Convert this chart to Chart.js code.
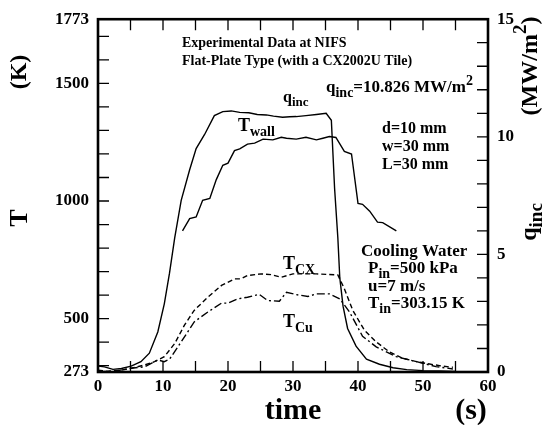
<!DOCTYPE html>
<html><head><meta charset="utf-8">
<script src="https://cdn.jsdelivr.net/npm/chart.js@4/dist/chart.umd.min.js"></script>
<style>html,body{margin:0;padding:0;background:#fff}</style>
</head><body>
<canvas id="c" width="554" height="425"></canvas>
<script>
// ---- data ----
const xTickLabels = [0, 10, 20, 30, 40, 50, 60];
const tTickLabels = [273, 500, 1000, 1500, 1773];
const qTickLabels = [0, 5, 10, 15];

const qTime  = [0, 1.0, 2.3, 3.6, 5.1, 6.6, 7.9, 9.2, 10.2, 11.0, 11.8, 12.8, 14.1, 15.1, 16.4, 17.9, 19.2, 20.5, 21.8, 23.2, 24.5, 25.9, 27.0, 28.4, 29.5, 30.5, 32.0, 33.6, 35.1, 35.9, 36.4, 36.9, 37.2, 37.7, 38.4, 39.7, 41.3, 43.3, 45.4, 47.5, 50.0, 52.5, 55.0];
const qValue = [0.25, 0.22, 0.11, 0.15, 0.25, 0.44, 0.80, 1.70, 2.90, 4.20, 5.70, 7.30, 8.60, 9.50, 10.10, 10.90, 11.07, 11.10, 11.04, 11.02, 10.95, 10.93, 10.88, 10.83, 10.85, 10.86, 10.90, 10.95, 11.00, 10.70, 7.80, 5.70, 4.00, 2.80, 1.85, 1.10, 0.55, 0.33, 0.18, 0.10, 0.06, 0.04, 0.02];

const wallTime = [13.0, 14.1, 15.1, 16.1, 17.2, 18.2, 19.2, 20.0, 21.0, 21.8, 23.0, 24.1, 25.4, 26.9, 28.2, 29.0, 30.5, 32.0, 33.6, 34.6, 35.6, 36.6, 37.9, 39.0, 40.0, 40.7, 41.8, 43.0, 43.8, 45.9];
const wallTemp = [873, 925, 932, 1003, 1011, 1091, 1152, 1161, 1214, 1222, 1242, 1246, 1263, 1260, 1271, 1267, 1263, 1271, 1260, 1267, 1274, 1270, 1211, 1200, 990, 986, 957, 910, 908, 873];

const cxTime = [0, 1.5, 3.6, 5.1, 7.2, 8.7, 10.2, 11.8, 13.3, 14.8, 16.9, 19.0, 21.0, 22.0, 23.0, 25.1, 26.6, 28.2, 30.0, 33.6, 36.9, 37.9, 39.2, 41.0, 42.8, 44.8, 46.9, 49.0, 51.0, 53.0, 54.6];
const cxTemp = [281, 276, 281, 289, 303, 317, 338, 394, 472, 535, 591, 641, 669, 669, 683, 690, 687, 676, 690, 690, 686, 627, 535, 450, 401, 359, 331, 317, 307, 298, 293];

const cuTime = [0, 2.5, 5.1, 7.2, 9.2, 10.2, 11.0, 12.8, 14.8, 16.9, 19.0, 20.0, 21.5, 23.0, 24.8, 26.1, 27.9, 29.0, 30.5, 32.3, 33.6, 35.6, 37.2, 38.7, 40.7, 42.8, 45.9, 49.0, 52.0, 54.6];
const cuTemp = [274, 276, 289, 295, 324, 317, 327, 401, 486, 528, 566, 566, 584, 591, 603, 577, 574, 612, 602, 594, 605, 605, 584, 528, 425, 380, 338, 317, 296, 286];

// ---- helpers ----
const FONT = '"Liberation Serif", "Times New Roman", serif';
const pts = (xs, ys) => xs.map((x, i) => ({ x: x, y: ys[i] }));
const SUBR = 0.8;

function richWidth(ctx, parts, size) {
  let w = 0;
  for (const p of parts) {
    const s = (p.sub || p.sup) ? Math.round(size * SUBR) : size;
    ctx.font = 'bold ' + s + 'px ' + FONT;
    w += ctx.measureText(p.t).width;
  }
  return w;
}
function drawRich(ctx, parts, x, y, size, align) {
  const w = richWidth(ctx, parts, size);
  let cx = align === 'center' ? x - w / 2 : (align === 'right' ? x - w : x);
  ctx.textAlign = 'left';
  for (const p of parts) {
    const s = (p.sub || p.sup) ? Math.round(size * SUBR) : size;
    ctx.font = 'bold ' + s + 'px ' + FONT;
    const dy = p.sub ? size * 0.28 : (p.sup ? -size * 0.42 : 0);
    ctx.fillText(p.t, cx, y + dy);
    cx += ctx.measureText(p.t).width;
  }
}

// annotation texts (pixel placement relative to the canvas)
const notes = [
  { parts: [{ t: 'Experimental Data at NIFS' }], x: 182, y: 47, size: 14 },
  { parts: [{ t: 'Flat-Plate Type (with a CX2002U Tile)' }], x: 182, y: 65, size: 14 },
  { parts: [{ t: 'q' }, { t: 'inc', sub: true }, { t: '=10.826 MW/m' }, { t: '2', sup: true }], x: 326, y: 92, size: 17 },
  { parts: [{ t: 'q' }, { t: 'inc', sub: true }], x: 283, y: 102, size: 16 },
  { parts: [{ t: 'T' }, { t: 'wall', sub: true }], x: 238, y: 131, size: 18 },
  { parts: [{ t: 'd=10 mm' }], x: 382, y: 133, size: 16 },
  { parts: [{ t: 'w=30 mm' }], x: 382, y: 151, size: 16 },
  { parts: [{ t: 'L=30 mm' }], x: 382, y: 169, size: 16 },
  { parts: [{ t: 'T' }, { t: 'CX', sub: true }], x: 283, y: 269, size: 18 },
  { parts: [{ t: 'T' }, { t: 'Cu', sub: true }], x: 283, y: 327, size: 18 },
  { parts: [{ t: 'Cooling Water' }], x: 361, y: 256, size: 17 },
  { parts: [{ t: 'P' }, { t: 'in', sub: true }, { t: '=500 kPa' }], x: 368, y: 273, size: 17 },
  { parts: [{ t: 'u=7 m/s' }], x: 368, y: 291, size: 17 },
  { parts: [{ t: 'T' }, { t: 'in', sub: true }, { t: '=303.15 K' }], x: 368, y: 308, size: 17 },
];

const decor = {
  id: 'decor',
  afterDatasetsDraw(chart) {
    const ctx = chart.ctx;
    const a = chart.chartArea;
    const sx = chart.scales.x, sy = chart.scales.y, sq = chart.scales.y2;
    ctx.save();
    ctx.strokeStyle = '#000';
    ctx.fillStyle = '#000';
    // inward tick marks
    ctx.lineWidth = 1.3;
    const L = 11;
    ctx.beginPath();
    for (let t = 5; t < 60; t += 5) {
      const px = sx.getPixelForValue(t);
      ctx.moveTo(px, a.bottom); ctx.lineTo(px, a.bottom - L);
      ctx.moveTo(px, a.top); ctx.lineTo(px, a.top + L);
    }
    for (let T = 300; T <= 1700; T += 100) {
      const py = sy.getPixelForValue(T);
      ctx.moveTo(a.left, py); ctx.lineTo(a.left + L, py);
    }
    for (let q = 1; q < 15; q += 1) {
      const py = sq.getPixelForValue(q);
      ctx.moveTo(a.right, py); ctx.lineTo(a.right - L, py);
    }
    ctx.stroke();
    // frame
    ctx.lineWidth = 2.6;
    ctx.strokeRect(a.left, a.top, a.right - a.left, a.bottom - a.top);
    // annotations
    ctx.textBaseline = 'alphabetic';
    for (const n of notes) drawRich(ctx, n.parts, n.x, n.y, n.size, 'left');
    // axis titles
    drawRich(ctx, [{ t: 'time' }], 293, 419, 30, 'center');
    drawRich(ctx, [{ t: '(s)' }], 471, 419, 30, 'center');
    const rot = (x, y, parts, size) => {
      ctx.save(); ctx.translate(x, y); ctx.rotate(-Math.PI / 2);
      ctx.textBaseline = 'middle';
      drawRich(ctx, parts, 0, 0, size, 'center');
      ctx.restore();
    };
    rot(20, 218, [{ t: 'T' }], 26);
    rot(20, 72, [{ t: '(K)' }], 24);
    rot(530, 222, [{ t: 'q' }, { t: 'inc', sub: true }], 24);
    rot(531, 66, [{ t: '(MW/m' }, { t: '2', sup: true }, { t: ')' }], 24);
    ctx.restore();
  }
};

const tickFont = { family: FONT, size: 17, weight: 'bold' };
const setTicks = (vals) => (s) => { s.ticks = vals.map(v => ({ value: v })); };
const plain = (v) => String(v);

new Chart(document.getElementById('c'), {
  type: 'line',
  data: {
    datasets: [
      { label: 'q_inc', data: pts(qTime, qValue), yAxisID: 'y2', borderColor: '#000', borderWidth: 1.4, pointRadius: 0, tension: 0, fill: false },
      { label: 'T_wall', data: pts(wallTime, wallTemp), yAxisID: 'y', borderColor: '#000', borderWidth: 1.4, pointRadius: 0, tension: 0, fill: false },
      { label: 'T_CX', data: pts(cxTime, cxTemp), yAxisID: 'y', borderColor: '#000', borderWidth: 1.4, borderDash: [5, 3], pointRadius: 0, tension: 0, fill: false },
      { label: 'T_Cu', data: pts(cuTime, cuTemp), yAxisID: 'y', borderColor: '#000', borderWidth: 1.4, borderDash: [8, 3, 2, 3], pointRadius: 0, tension: 0, fill: false },
    ]
  },
  options: {
    responsive: false,
    animation: false,
    devicePixelRatio: 1,
    layout: { padding: { top: 17, left: 0, right: 0, bottom: 0 } },
    plugins: { legend: { display: false }, tooltip: { enabled: false } },
    scales: {
      x: {
        type: 'linear', min: 0, max: 60,
        grid: { display: false, drawTicks: false }, border: { display: false },
        afterBuildTicks: setTicks(xTickLabels),
        afterFit: (s) => { s.height = 53; },
        ticks: { color: '#000', font: tickFont, padding: 4, autoSkip: false, maxRotation: 0, callback: plain }
      },
      y: {
        type: 'linear', position: 'left', min: 273, max: 1773,
        grid: { display: false, drawTicks: false }, border: { display: false },
        afterBuildTicks: setTicks(tTickLabels),
        afterFit: (s) => { s.width = 98; },
        ticks: { color: '#000', font: tickFont, padding: 9, autoSkip: false, callback: plain }
      },
      y2: {
        type: 'linear', position: 'right', min: 0, max: 15,
        grid: { display: false, drawTicks: false }, border: { display: false },
        afterBuildTicks: setTicks(qTickLabels),
        afterFit: (s) => { s.width = 66; },
        ticks: { color: '#000', font: tickFont, padding: 9, autoSkip: false, callback: plain }
      }
    }
  },
  plugins: [decor]
});
</script>
</body></html>
